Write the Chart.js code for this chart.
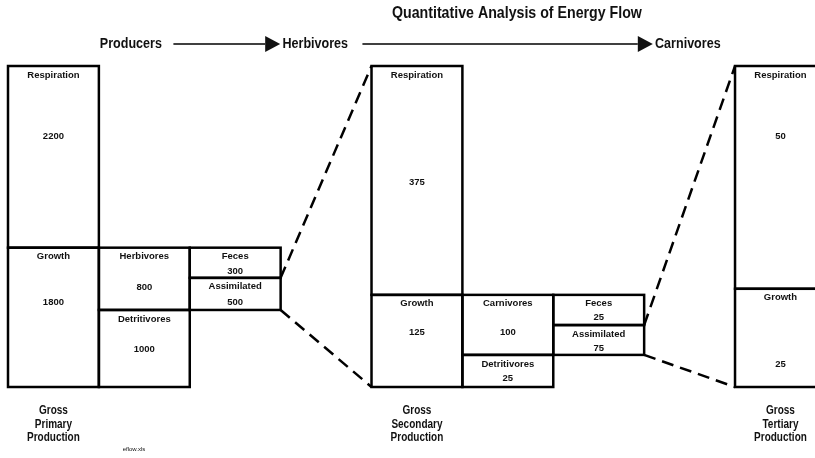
<!DOCTYPE html>
<html>
<head>
<meta charset="utf-8">
<script src="https://cdn.jsdelivr.net/npm/chart.js@4/dist/chart.umd.min.js"></script>
<style>
  html, body { margin: 0; padding: 0; background: #fff; }
  #wrap { width: 815px; height: 458px; position: relative; }
</style>
</head>
<body>
<div id="wrap"><canvas id="flowChart"></canvas></div>
<script>
'use strict';

// column slots (9 equal slots, two of them left empty for the connectors)
const slots = [0.5, 1.5, 2.5, 4.5, 5.5, 6.5, 8.5];

// energy values shown in the boxes
const upperNames = ['Respiration', 'Herbivores', 'Feces', 'Respiration', 'Carnivores', 'Feces', 'Respiration'];
const upperValues = [2200, 800, 300, 375, 100, 25, 50];
const lowerNames = ['Growth', 'Detritivores', 'Assimilated', 'Growth', 'Detritivores', 'Assimilated', 'Growth'];
const lowerValues = [1800, 1000, 500, 125, 25, 75, 25];

// box extents as % of the column height
const upperShare = [[43.4, 100], [24.0, 43.4], [34.0, 43.4], [28.7, 100], [10.0, 28.7], [19.3, 28.7], [30.6, 100]];
const lowerShare = [[0, 43.4], [0, 24.0], [24.0, 34.0], [0, 28.7], [0, 10.0], [10.0, 19.3], [0, 30.6]];

const trophicLevels = ['Producers', 'Herbivores', 'Carnivores'];
const grossLabels = [['Gross', 'Primary', 'Production'], ['Gross', 'Secondary', 'Production'], ['Gross', 'Tertiary', 'Production']];
const grossSlots = [0.5, 4.5, 8.5];

// where the value sits below the box top (px)
const upperValueDy = [70, 40, 24, 116, 38, 23, 70];
const lowerValueDy = [55, 39, 25, 38, 23, 23, 76];

const boxFont = 'bold 9.5px "Liberation Sans", Arial, sans-serif';

// condensed look: regular bold font squeezed horizontally
function narrowText(ctx, text, x, y, size, align, squeeze){
  ctx.save();
  ctx.font = 'bold ' + size + 'px "Liberation Sans", Arial, sans-serif';
  ctx.textAlign = align;
  ctx.translate(x, y);
  ctx.scale(squeeze || 0.8, 1);
  ctx.fillText(text, 0, 0);
  ctx.restore();
}

function toPoints(share){
  return slots.map((x, i) => ({x: x, y: share[i]}));
}

function boxRect(bar){
  const left = bar.x - bar.width / 2;
  const top = Math.min(bar.y, bar.base);
  return {left: left, right: left + bar.width, top: top, bottom: Math.max(bar.y, bar.base)};
}

const flowDecor = {
  id: 'flowDecor',
  afterDatasetsDraw(chart){
    const ctx = chart.ctx;
    const xs = chart.scales.x;
    const lower = chart.getDatasetMeta(0).data.map(boxRect);
    const upper = chart.getDatasetMeta(1).data.map(boxRect);

    ctx.save();
    ctx.strokeStyle = '#000';
    ctx.lineWidth = 2.5;
    [lower, upper].forEach(set => set.forEach(r => {
      ctx.strokeRect(r.left, r.top, r.right - r.left, r.bottom - r.top);
    }));

    // dashed connectors from Assimilated to the next level
    ctx.setLineDash([12, 7]);
    [[2, 3], [5, 6]].forEach(pair => {
      const a = lower[pair[0]];
      const b = upper[pair[1]];
      const c = lower[pair[1]];
      ctx.beginPath();
      ctx.moveTo(a.right, a.top);
      ctx.lineTo(b.left, b.top);
      ctx.moveTo(a.right, a.bottom);
      ctx.lineTo(c.left, c.bottom);
      ctx.stroke();
    });
    ctx.setLineDash([]);

    // box texts
    ctx.fillStyle = '#111';
    ctx.font = boxFont;
    ctx.textAlign = 'center';
    ctx.textBaseline = 'middle';
    const writeBoxes = (rects, names, values, dys) => rects.forEach((r, i) => {
      const cx = (r.left + r.right) / 2;
      ctx.fillText(names[i], cx, r.top + 9);
      ctx.fillText(String(values[i]), cx, r.top + dys[i]);
    });
    writeBoxes(upper, upperNames, upperValues, upperValueDy);
    writeBoxes(lower, lowerNames, lowerValues, lowerValueDy);

    // title
    narrowText(ctx, 'Quantitative Analysis of Energy Flow', xs.getPixelForValue(5.6), 13, 16.5, 'center', 0.86);

    // trophic level arrows
    const arrowY = 44;
    const textX = [xs.getPixelForValue(1.01), xs.getPixelForValue(3.02), xs.getPixelForValue(7.12)];
    const lineFrom = [xs.getPixelForValue(1.82), xs.getPixelForValue(3.9)];
    const lineTo = [xs.getPixelForValue(2.83), xs.getPixelForValue(6.93)];
    trophicLevels.forEach((t, i) => narrowText(ctx, t, textX[i], arrowY, 14.6, 'left', 0.86));
    ctx.lineWidth = 1.5;
    lineFrom.forEach((x0, i) => {
      const x1 = lineTo[i];
      ctx.beginPath();
      ctx.moveTo(x0, arrowY);
      ctx.lineTo(x1, arrowY);
      ctx.stroke();
      ctx.beginPath();
      ctx.moveTo(x1, arrowY - 8);
      ctx.lineTo(x1 + 15, arrowY);
      ctx.lineTo(x1, arrowY + 8);
      ctx.closePath();
      ctx.fill();
    });

    // gross production labels under the columns
    grossLabels.forEach((lines, i) => {
      const cx = xs.getPixelForValue(grossSlots[i]);
      lines.forEach((s, j) => narrowText(ctx, s, cx, 411 + j * 13.5, 12.5, 'center', 0.8));
    });

    ctx.font = '6px "Liberation Sans", Arial, sans-serif';
    ctx.textAlign = 'center';
    ctx.fillText('eflow.xls', 134, 449);
    ctx.restore();
  }
};

const flowChart = new Chart(document.getElementById('flowChart'), {
  type: 'bar',
  data: {
    datasets: [{
      label: 'lower',
      data: toPoints(lowerShare),
      backgroundColor: '#fff',
      borderWidth: 0,
      barPercentage: 1,
      categoryPercentage: 1,
      grouped: false,
    },{
      label: 'upper',
      data: toPoints(upperShare),
      backgroundColor: '#fff',
      borderWidth: 0,
      barPercentage: 1,
      categoryPercentage: 1,
      grouped: false,
    }]
  },
  options: {
    responsive: true,
    maintainAspectRatio: false,
    animation: false,
    layout: {
      padding: {left: 8, right: 0, top: 66, bottom: 71},
    },
    plugins: {
      legend: {display: false},
      tooltip: {enabled: false},
      colors: {enabled: false},
    },
    scales: {
      x: {
        type: 'linear', min: 0, max: 8.88, offset: false, display: false,
        ticks: {stepSize: 1, includeBounds: false},
      },
      y: {min: 0, max: 100, display: false},
    }
  },
  plugins: [flowDecor]
});
</script>
</body>
</html>
